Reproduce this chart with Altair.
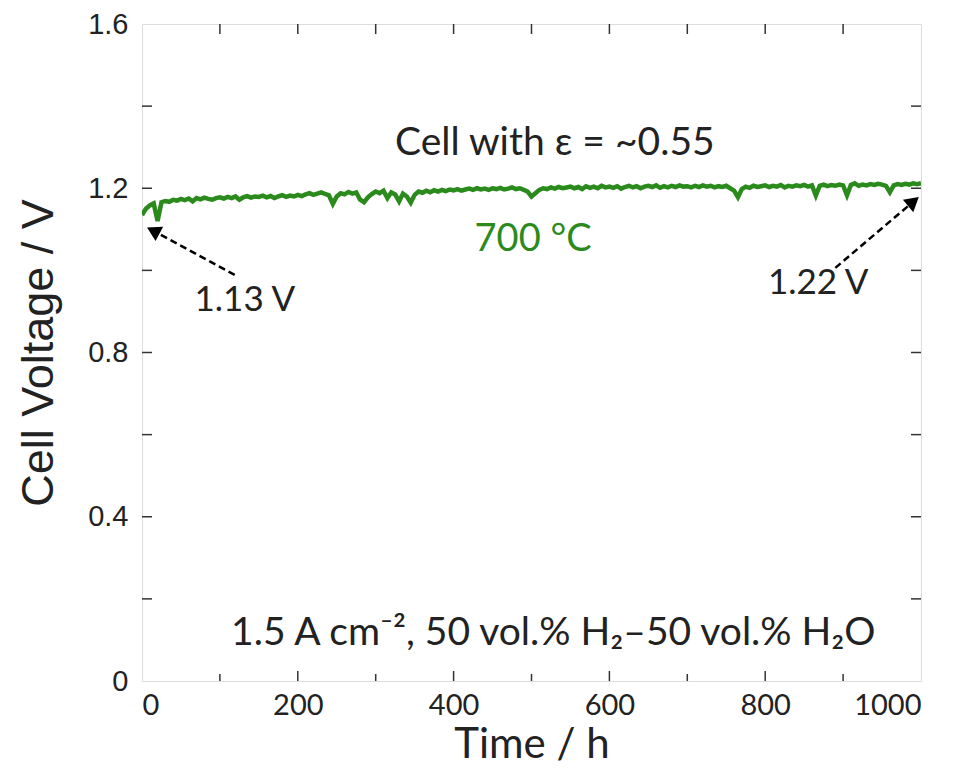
import altair as alt
import pandas as pd

# ---- data ----
time_h = list(range(0, 1001, 5))
voltage = [
    1.135, 1.150, 1.158, 1.163, 1.120, 1.166, 1.169, 1.167, 1.172, 1.170,
    1.174, 1.171, 1.175, 1.168, 1.176, 1.173, 1.177, 1.174, 1.172, 1.176,
    1.178, 1.175, 1.179, 1.176, 1.180, 1.172, 1.178, 1.181, 1.177, 1.180,
    1.179, 1.182, 1.178, 1.181, 1.176, 1.180, 1.183, 1.179, 1.182, 1.180,
    1.184, 1.181, 1.185, 1.188, 1.184, 1.187, 1.190, 1.186, 1.183, 1.162,
    1.180, 1.188, 1.185, 1.191, 1.187, 1.190, 1.172, 1.166, 1.178, 1.186,
    1.192, 1.188, 1.194, 1.176, 1.190, 1.185, 1.168, 1.187, 1.180, 1.165,
    1.184, 1.192, 1.189, 1.194, 1.190, 1.195, 1.192, 1.196, 1.193, 1.197,
    1.195, 1.198, 1.194, 1.197, 1.199, 1.196, 1.200, 1.197, 1.199, 1.196,
    1.200, 1.198, 1.201, 1.197, 1.199, 1.202, 1.198, 1.200, 1.196, 1.192,
    1.180, 1.188, 1.196, 1.200, 1.198, 1.202, 1.199, 1.203, 1.200, 1.202,
    1.204, 1.200, 1.203, 1.198, 1.205, 1.201, 1.204, 1.200, 1.206, 1.202,
    1.204, 1.201, 1.205, 1.199, 1.203, 1.206, 1.202, 1.205, 1.200, 1.204,
    1.206, 1.203, 1.207, 1.201, 1.205, 1.202, 1.206, 1.203, 1.207, 1.204,
    1.205, 1.202, 1.206, 1.203, 1.207, 1.204, 1.206, 1.202, 1.205, 1.203,
    1.206, 1.200, 1.194, 1.178, 1.198, 1.204, 1.201, 1.206, 1.203, 1.205,
    1.207, 1.203, 1.206, 1.204, 1.208, 1.202, 1.206, 1.204, 1.207, 1.205,
    1.208, 1.204, 1.207, 1.182, 1.206, 1.209, 1.205, 1.208, 1.206, 1.209,
    1.207, 1.183, 1.208, 1.212, 1.206, 1.209, 1.207, 1.210, 1.208, 1.211,
    1.209, 1.206, 1.190, 1.207, 1.210, 1.208, 1.211, 1.209, 1.212, 1.210,
    1.212,
]

y_major = [0, 0.4, 0.8, 1.2, 1.6]
y_minor = [0.2, 0.6, 1.0, 1.4]
x_major = [0, 200, 400, 600, 800, 1000]
x_minor = [100, 300, 500, 700, 900]

big_text = ["Cell with ε = ~0.55", "1.5 A cm⁻², 50 vol.% H₂–50 vol.% H₂O"]
big_t = [530, 528]
big_v = [1.310, 0.118]
small_text = ["1.13 V", "1.22 V"]
small_t = [132, 868]
small_v = [0.928, 0.969]
temp_text = ["700 °C"]
temp_t = [502]
temp_v = [1.074]

arrow_t = [119, 890]
arrow_v = [0.989, 1.006]
arrow_t2 = [17, 988]
arrow_v2 = [1.094, 1.164]
arrow_angle = [298, 50]

W, H = 779, 657
GREEN = "#2a8a1c"
DARK = "#222222"

df = pd.DataFrame({"t": time_h, "v": voltage})
xs = alt.Scale(domain=[0, 1000], nice=False)
ys = alt.Scale(domain=[0, 1.6], nice=False)

line = alt.Chart(df).mark_line(color=GREEN, strokeWidth=4.5, clip=True).encode(
    x=alt.X("t:Q", scale=xs, title="Time / h",
            axis=alt.Axis(values=x_major, tickSize=0, labelPadding=10, grid=False, domain=False,
                          format="d",
                          labelFont="Lato", labelFontSize=29, labelColor=DARK,
                          titleFont="Lato", titleFontSize=42, titleFontWeight="normal",
                          titleColor=DARK, titlePadding=4)),
    y=alt.Y("v:Q", scale=ys, title="Cell Voltage / V",
            axis=alt.Axis(values=y_major, tickSize=0, labelPadding=14, grid=False, domain=False,
                          labelExpr="datum.value == 0 ? '0' : format(datum.value, '.1f')",
                          labelFont="Liberation Sans", labelFontSize=29, labelColor=DARK,
                          titleFont="Liberation Sans", titleFontSize=45,
                          titleFontWeight="normal", titleColor=DARK, titlePadding=26)),
)

ydf_all = pd.DataFrame({"v": y_major[1:-1] + y_minor})
xdf_all = pd.DataFrame({"t": x_major[1:-1] + x_minor})
tick_col = "#333333"
left_t = alt.Chart(ydf_all).mark_rule(color=tick_col, strokeWidth=1.5).encode(
    y=alt.Y("v:Q", scale=ys), x=alt.value(0), x2=alt.value(10))
right_t = alt.Chart(ydf_all).mark_rule(color=tick_col, strokeWidth=1.5).encode(
    y=alt.Y("v:Q", scale=ys), x=alt.value(W - 10), x2=alt.value(W))
xdf_maj = pd.DataFrame({"t": x_major[1:-1]})
xdf_min = pd.DataFrame({"t": x_minor})
bot_maj = alt.Chart(xdf_maj).mark_rule(color=tick_col, strokeWidth=1.5).encode(
    x=alt.X("t:Q", scale=xs), y=alt.value(H), y2=alt.value(H - 10))
bot_min = alt.Chart(xdf_min).mark_rule(color=tick_col, strokeWidth=1.5).encode(
    x=alt.X("t:Q", scale=xs), y=alt.value(H), y2=alt.value(H - 7))
top_t = alt.Chart(xdf_all).mark_rule(color=tick_col, strokeWidth=1.5).encode(
    x=alt.X("t:Q", scale=xs), y=alt.value(0), y2=alt.value(10))

bdf = pd.DataFrame({"text": big_text, "t": big_t, "v": big_v})
big = alt.Chart(bdf).mark_text(font="Lato", fontSize=39, color=DARK).encode(
    x=alt.X("t:Q", scale=xs), y=alt.Y("v:Q", scale=ys), text="text:N")
sdf = pd.DataFrame({"text": small_text, "t": small_t, "v": small_v})
small = alt.Chart(sdf).mark_text(font="Lato", fontSize=35, color=DARK).encode(
    x=alt.X("t:Q", scale=xs), y=alt.Y("v:Q", scale=ys), text="text:N")
tdf = pd.DataFrame({"text": temp_text, "t": temp_t, "v": temp_v})
temp = alt.Chart(tdf).mark_text(font="Lato", fontSize=38, color=GREEN).encode(
    x=alt.X("t:Q", scale=xs), y=alt.Y("v:Q", scale=ys), text="text:N")

ardf = pd.DataFrame({"t": arrow_t, "v": arrow_v, "t2": arrow_t2, "v2": arrow_v2,
                     "ang": arrow_angle})
arrows = alt.Chart(ardf).mark_rule(color="black", strokeWidth=2.5, strokeDash=[7, 4]).encode(
    x=alt.X("t:Q", scale=xs), y=alt.Y("v:Q", scale=ys), x2="t2:Q", y2="v2:Q")
heads = alt.Chart(ardf).mark_point(shape="triangle", filled=True, color="black",
                                   size=260, opacity=1).encode(
    x=alt.X("t2:Q", scale=xs), y=alt.Y("v2:Q", scale=ys), angle=alt.Angle("ang:Q", scale=None))

chart = alt.layer(line, left_t, right_t, bot_maj, bot_min, top_t, big, small, temp,
                  arrows, heads).properties(
    width=W, height=H,
    padding={"left": 134, "top": 16, "right": 20, "bottom": 90},
    autosize=alt.AutoSizeParams(type="none"),
).configure_view(stroke="#333333", strokeWidth=1.5).configure(background="white")

chart.save("out.html", embed_options={"renderer": "svg", "actions": False})
